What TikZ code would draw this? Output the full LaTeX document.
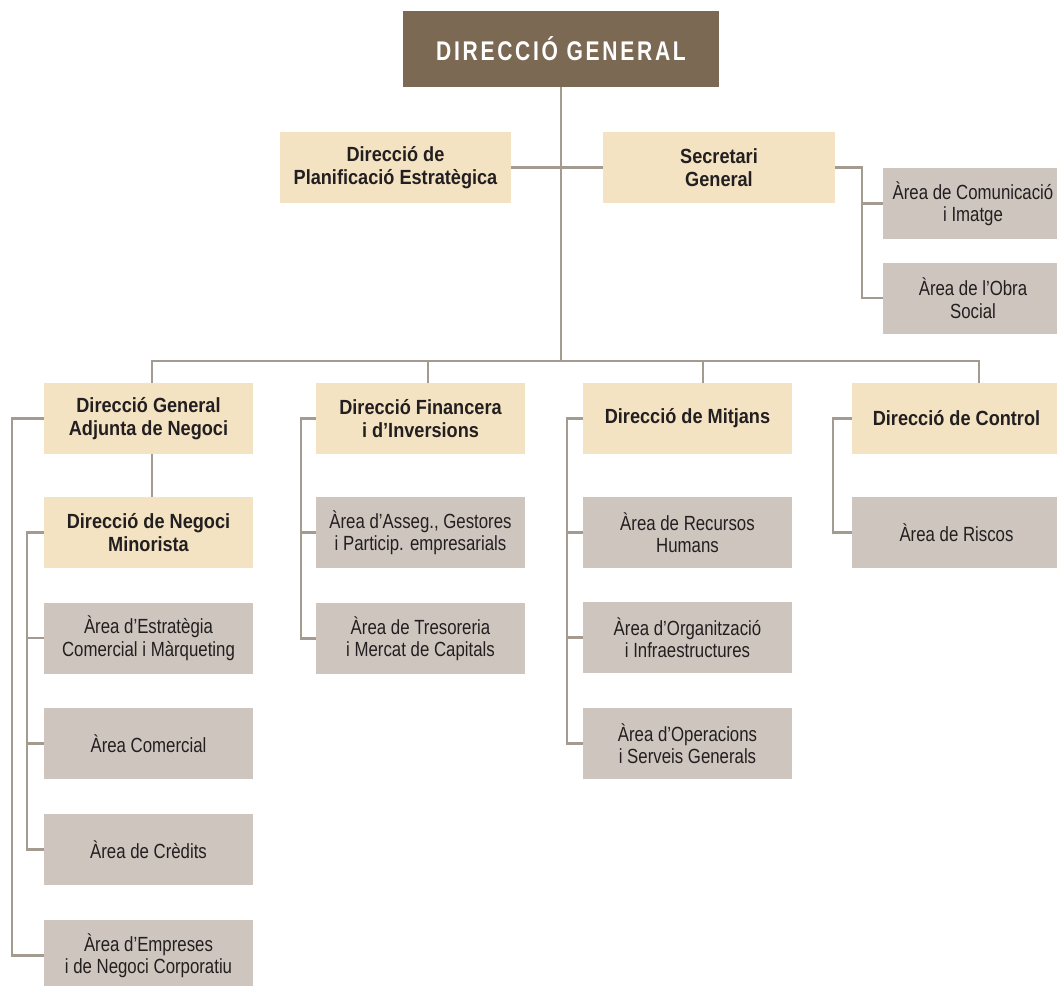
\documentclass[tikz,border=0pt]{standalone}
\usepackage{fontspec}
\setmainfont{Liberation Sans}
\newfontfamily\hbfam{Liberation Sans}[FakeStretch=0.885]
\newfontfamily\arfam{Liberation Sans}[FakeStretch=0.82]
\newfontfamily\tifam{Liberation Sans}[FakeStretch=0.78,LetterSpace=10]
\newcommand{\fhead}{\hbfam\bfseries\fontsize{20.5}{22.5}\selectfont}
\newcommand{\farea}{\arfam\fontsize{20.5}{22.5}\selectfont}
\newcommand{\ftitle}{\tifam\bfseries\fontsize{27}{30}\selectfont}
\definecolor{brn}{HTML}{7B6954}
\definecolor{yel}{HTML}{F4E3C3}
\definecolor{gry}{HTML}{CEC5BE}
\definecolor{lin}{HTML}{A39A90}
\definecolor{txt}{HTML}{231F20}
\tikzset{
  box/.style={rectangle, inner sep=0pt, align=center, text=txt, minimum height=71pt},
  ybox/.style={box, fill=yel, minimum width=209pt, font=\fhead},
  gbox/.style={box, fill=gry, minimum width=209pt, font=\farea},
  link/.style={draw=lin, line width=2.9pt},
}
\begin{document}
\begin{tikzpicture}[x=1pt,y=-1pt]
\useasboundingbox (0,0) rectangle (1057,985);
% nodes
\node[box, fill=brn, text=white, minimum width=316pt, minimum height=76pt, font=\ftitle] (dg) at (561,48.5) {DIRECCIÓ GENERAL};
\node[ybox, minimum width=231pt] (plan) at (395.5,167.5) {Direcció de\\Planificació Estratègica};
\node[ybox, minimum width=232pt] (sec) at (719,167.5) {Secretari\\General};
\node[gbox, minimum width=180pt] (com) at (973,203.5) {Àrea de Comunicació\\i Imatge};
\node[gbox, minimum width=180pt] (obra) at (973,298) {Àrea de l’Obra\\Social};
\node[ybox] (adj) at (148.5,418.5) {Direcció General\\Adjunta de Negoci};
\node[ybox] (fin) at (420.5,418.5) {Direcció Financera\\i d’Inversions};
\node[ybox] (mit) at (687.5,418.5) {Direcció de Mitjans};
\node[ybox] (con) at (956.5,418.5) {Direcció de Control};
\node[ybox] (min) at (148.5,532.5) {Direcció de Negoci\\Minorista};
\node[gbox] (est) at (148.5,638) {Àrea d’Estratègia\\Comercial i Màrqueting};
\node[gbox] (comer) at (148.5,743.5) {Àrea Comercial};
\node[gbox] (cred) at (148.5,849.5) {Àrea de Crèdits};
\node[gbox] (emp) at (148.5,955.5) {Àrea d’Empreses\\i de Negoci Corporatiu};
\node[gbox] (asseg) at (420.5,532.5) {Àrea d’Asseg., Gestores\\i Particip. empresarials};
\node[gbox] (tres) at (420.5,638.5) {Àrea de Tresoreria\\i Mercat de Capitals};
\node[gbox] (rec) at (687.5,532.5) {Àrea de Recursos\\Humans};
\node[gbox] (org) at (687.5,637.5) {Àrea d’Organització\\i Infraestructures};
\node[gbox] (ope) at (687.5,743.5) {Àrea d’Operacions\\i Serveis Generals};
\node[gbox] (ris) at (956.5,532.5) {Àrea de Riscos};
% coordinates
\coordinate (bl) at (152,361);
\coordinate (bf) at (428,361);
\coordinate (bm) at (703,361);
\coordinate (br) at (979,361);
\coordinate (sx) at (862,0);
\coordinate (ax) at (12,0);
\coordinate (mx) at (27,0);
\coordinate (fx) at (301,0);
\coordinate (tx) at (567,0);
\coordinate (cx) at (833,0);
% connectors
\draw[link] (dg.south) -- (dg.south |- bl);
\draw[link] (plan.east) -- (sec.west);
\draw[link] (bl |- adj.north) -- (bl) -- (br) -- (br |- con.north);
\draw[link] (bf) -- (bf |- fin.north);
\draw[link] (bm) -- (bm |- mit.north);
\draw[link] (sec.east) -- (sec.east -| sx) |- (obra.west);
\draw[link] (sx |- com.west) -- (com.west);
\draw[link] (bl |- adj.south) -- (bl |- min.north);
\draw[link] (adj.west) -- (adj.west -| ax) |- (emp.west);
\draw[link] (min.west) -- (min.west -| mx) |- (cred.west);
\draw[link] (mx |- est.west) -- (est.west);
\draw[link] (mx |- comer.west) -- (comer.west);
\draw[link] (fin.west) -- (fin.west -| fx) |- (tres.west);
\draw[link] (fx |- asseg.west) -- (asseg.west);
\draw[link] (mit.west) -- (mit.west -| tx) |- (ope.west);
\draw[link] (tx |- rec.west) -- (rec.west);
\draw[link] (tx |- org.west) -- (org.west);
\draw[link] (con.west) -- (con.west -| cx) |- (ris.west);
\end{tikzpicture}
\end{document}
